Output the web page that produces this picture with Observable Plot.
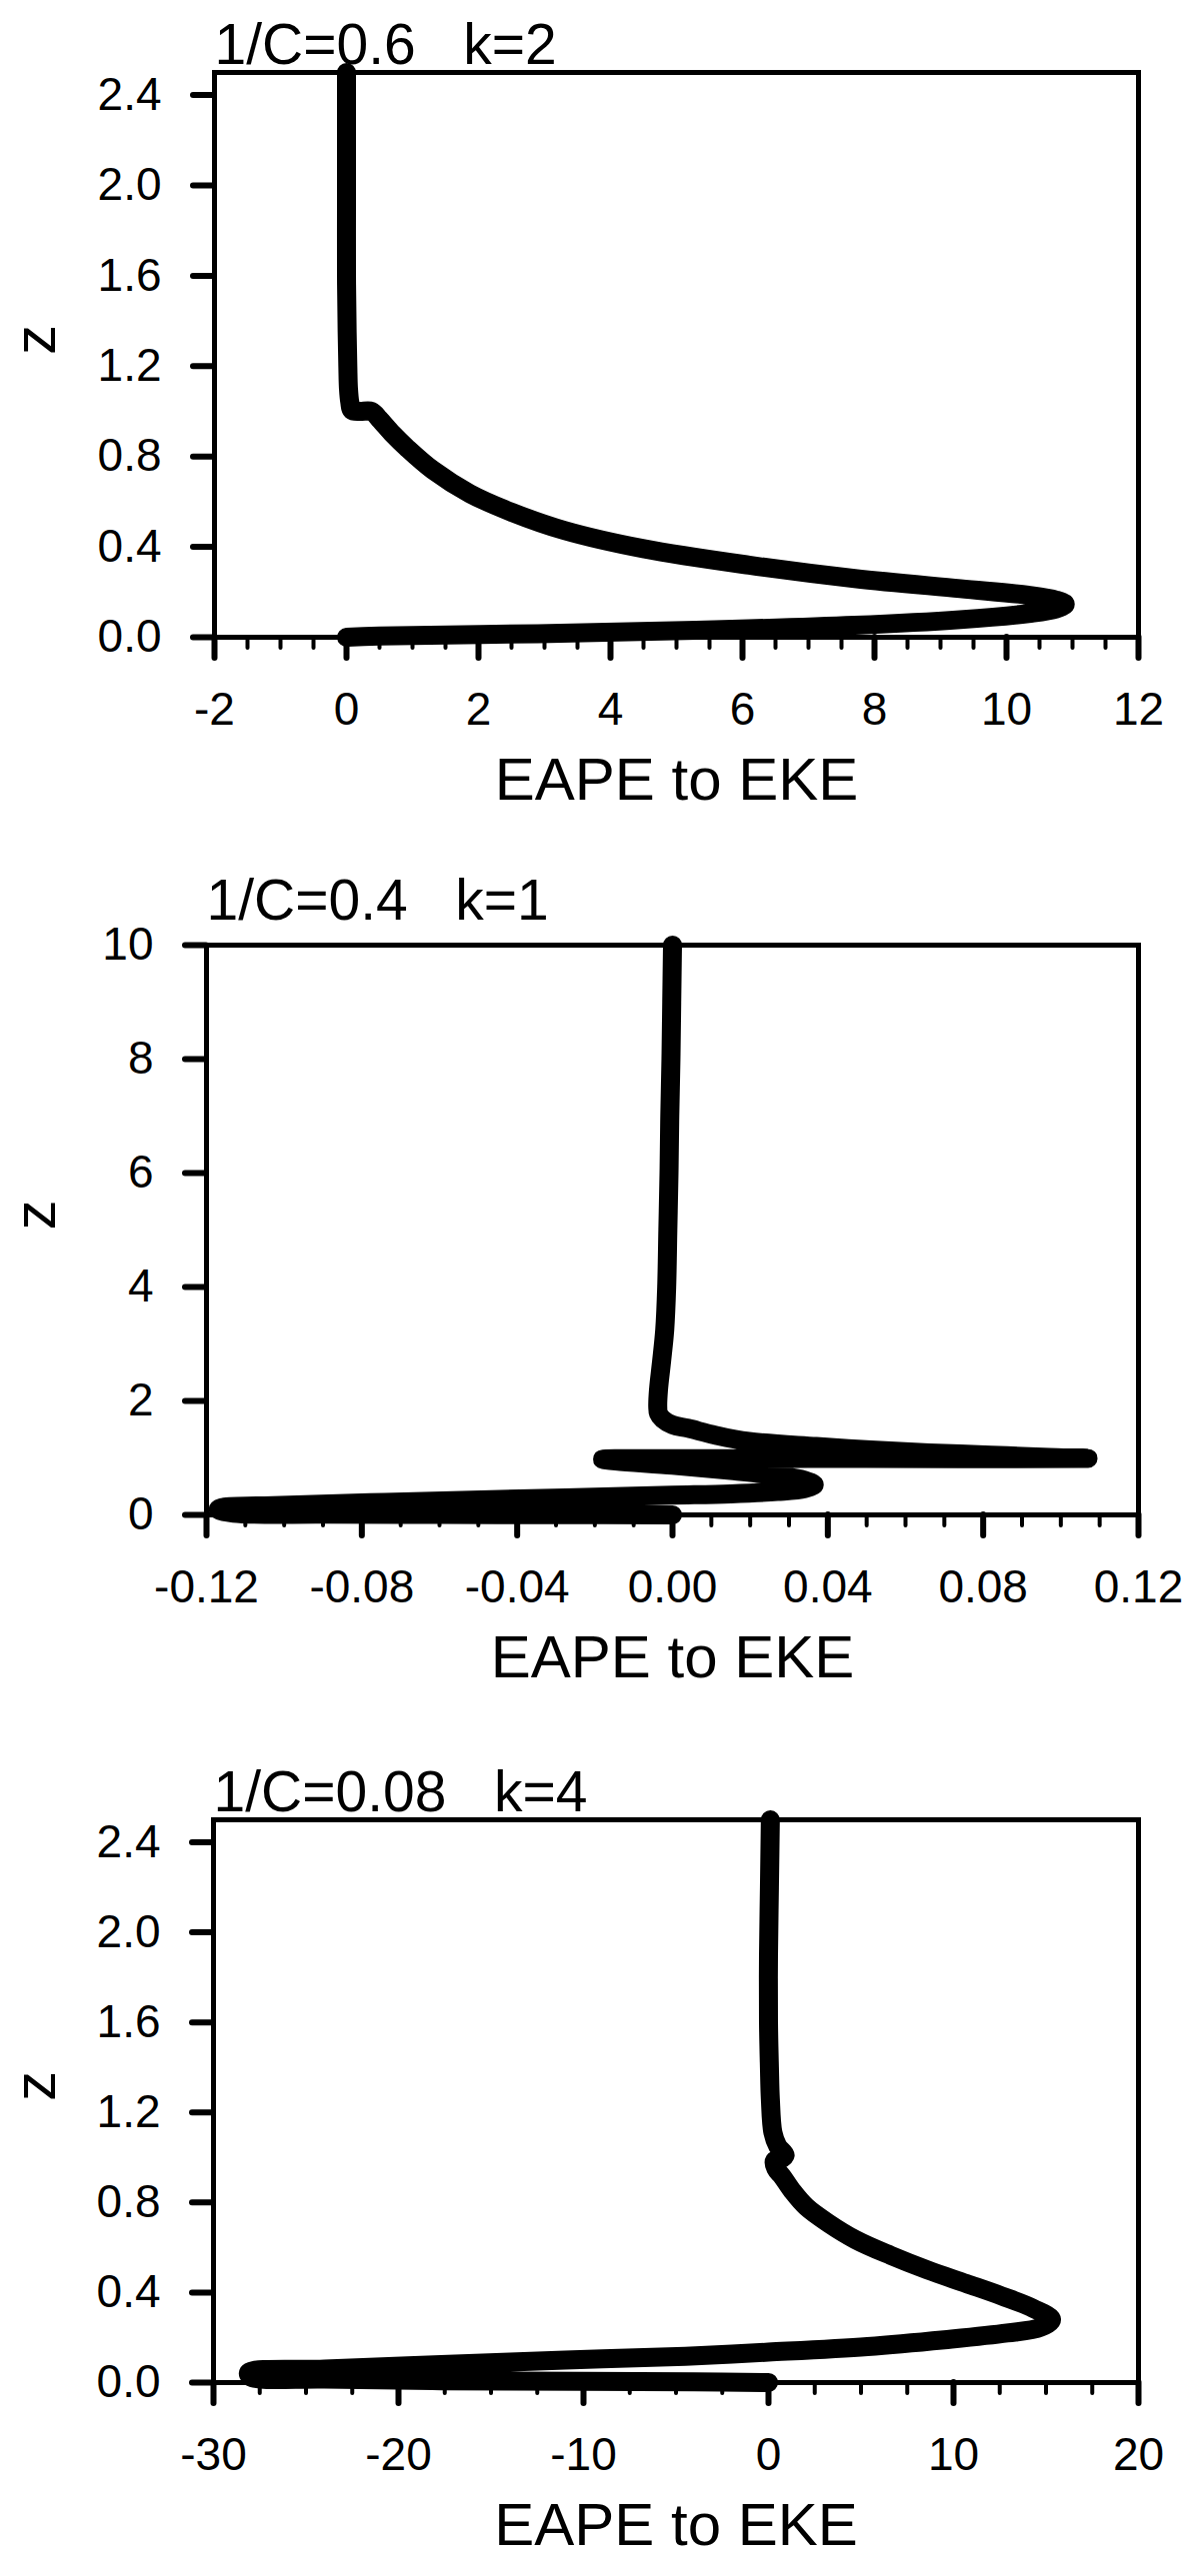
<!DOCTYPE html>
<html>
<head>
<meta charset="utf-8">
<script src="https://cdn.jsdelivr.net/npm/d3@7"></script>
<script src="https://cdn.jsdelivr.net/npm/@observablehq/plot@0.6"></script>
<style>
  html, body { margin: 0; padding: 0; background: #fff; }
  #chart svg { display: block; }
</style>
</head>
<body>
<div id="chart"></div>
<script>
// panel titles
const titles = ["1/C=0.6\u00a0\u00a0\u00a0k=2", "1/C=0.4\u00a0\u00a0\u00a0k=1", "1/C=0.08\u00a0\u00a0\u00a0k=4"];
const xLabel = "EAPE to EKE";
const yLabel = "z";

// panel 1: 1/C=0.6, k=2  (E = EAPE to EKE, z = height), traced top -> bottom
const p1E = [0.0, 0.0, 0.0, 0.0, 0.01, 0.02, 0.03, 0.05, 0.08, 0.2, 0.38, 0.5, 0.7, 0.91, 1.31, 1.87, 2.5, 3.3, 4.5, 6.1, 7.7, 9.3, 10.33, 10.75, 10.89, 10.75, 10.33, 9.3, 7.7, 5.3, 2.9, 0.5, 0.0];
const p1Z = [2.5, 2.2, 1.9, 1.6, 1.35, 1.2, 1.1, 1.04, 1.005, 1.0, 1.0, 0.965, 0.9, 0.84, 0.74, 0.636, 0.554, 0.473, 0.392, 0.319, 0.26, 0.215, 0.186, 0.165, 0.146, 0.125, 0.105, 0.078, 0.053, 0.031, 0.016, 0.006, 0.0];

// panel 2: 1/C=0.4, k=1
const p2E = [0.0, -0.0002, -0.0004, -0.0007, -0.0009, -0.0012, -0.0015, -0.002, -0.0028, -0.0036, -0.0038, -0.0036, -0.0025, 0.0, 0.004, 0.011, 0.0196, 0.037, 0.051, 0.066, 0.082, 0.097, 0.107, 0.05, 0.0, -0.018, 0.0, 0.015, 0.026, 0.034, 0.0365, 0.034, 0.027, 0.015, 0.0, -0.0275, -0.074, -0.105, -0.116, -0.117, -0.113, -0.09, -0.06, -0.03, 0.0];
const p2Z = [10.0, 9.0, 8.0, 7.0, 6.0, 5.0, 4.0, 3.25, 2.7, 2.2, 1.9, 1.78, 1.68, 1.58, 1.52, 1.4, 1.29, 1.2, 1.14, 1.09, 1.05, 1.01, 0.99, 0.99, 0.985, 0.975, 0.87, 0.78, 0.7, 0.61, 0.53, 0.46, 0.41, 0.37, 0.345, 0.3, 0.22, 0.16, 0.13, 0.09, 0.03, 0.012, 0.008, 0.005, 0.0];

// panel 3: 1/C=0.08, k=4
const p3E = [0.1, 0.05, 0.0, 0.0, 0.05, 0.1, 0.24, 0.5, 0.9, 0.6, 0.32, 0.4, 0.73, 1.3, 2.05, 3.2, 4.7, 6.6, 8.6, 10.7, 12.6, 14.3, 15.3, 14.7, 12.9, 9.5, 5.35, 0.0, -4.5, -11, -17.7, -24, -28.1, -28, -24, -17.7, -10, -4, 0.0];
const p3Z = [2.5, 2.2, 1.9, 1.6, 1.4, 1.26, 1.11, 1.05, 1.01, 0.99, 0.985, 0.95, 0.917, 0.85, 0.78, 0.71, 0.635, 0.565, 0.5, 0.44, 0.385, 0.33, 0.28, 0.245, 0.22, 0.19, 0.16, 0.135, 0.117, 0.1, 0.08, 0.06, 0.045, 0.025, 0.015, 0.008, 0.005, 0.003, 0.0];

// axes
const p1XTicks = [-2, 0, 2, 4, 6, 8, 10, 12];
const p1YTicks = [0, 0.4, 0.8, 1.2, 1.6, 2.0, 2.4];
const p2XTicks = [-0.12, -0.08, -0.04, 0, 0.04, 0.08, 0.12];
const p2YTicks = [0, 2, 4, 6, 8, 10];
const p3XTicks = [-30, -20, -10, 0, 10, 20];
const p3YTicks = [0, 0.4, 0.8, 1.2, 1.6, 2.0, 2.4];

const font = "'Liberation Sans', Arial, Helvetica, sans-serif";

function panel({E, Z, title, xDomain, yDomain, xTicks, xMinor, yTicks, xFmt, yFmt, height, margin, titleDy}) {
  const data = E.map((e, i) => ({E: e, z: Z[i]}));
  return Plot.plot({
    width: 1200,
    height,
    marginTop: margin[0],
    marginRight: margin[1],
    marginBottom: margin[2],
    marginLeft: margin[3],
    style: {fontFamily: font, color: "black", background: "white", overflow: "visible"},
    x: {domain: xDomain},
    y: {domain: yDomain},
    marks: [
      // minor ticks on x only, then labelled major ticks
      Plot.axisX(xMinor, {tickSize: 11, stroke: "black", strokeWidth: 4, strokeLinecap: "round", tickFormat: () => "", label: null}),
      Plot.axisX(xTicks, {tickSize: 21, tickPadding: 34, stroke: "black", fill: "black", strokeWidth: 6, strokeLinecap: "round", fontSize: 46, tickFormat: xFmt, label: null}),
      Plot.axisY(yTicks, {tickSize: 21, tickPadding: 32, stroke: "black", fill: "black", strokeWidth: 6, strokeLinecap: "round", fontSize: 46, tickFormat: yFmt, label: null}),
      Plot.frame({stroke: "black", strokeWidth: 5}),
      Plot.line(data, {
        x: "E", y: "z",
        stroke: "black", strokeWidth: 19,
        strokeLinecap: "round", strokeLinejoin: "round",
        curve: "catmull-rom"
      }),
      Plot.text([title], {text: (d) => d, frameAnchor: "top-left", textAnchor: "start", lineAnchor: "bottom", dy: -titleDy, fontSize: 57}),
      Plot.text([xLabel], {text: (d) => d, frameAnchor: "bottom", lineAnchor: "bottom", dy: 162, fontSize: 60}),
      Plot.text([yLabel], {text: (d) => d, frameAnchor: "left", lineAnchor: "bottom", rotate: -90, dx: 54 - margin[3], fontSize: 60})
    ]
  });
}

const chart = document.getElementById("chart");

chart.appendChild(panel({
  E: p1E, Z: p1Z, title: titles[0],
  xDomain: [-2, 12], yDomain: [0, 2.5],
  xTicks: p1XTicks, xMinor: d3.range(-2, 12.001, 0.5), yTicks: p1YTicks,
  xFmt: (d) => String(d), yFmt: (d) => d.toFixed(1),
  height: 860, margin: [72, 62, 223, 214], titleDy: 9
}));

chart.appendChild(panel({
  E: p2E, Z: p2Z, title: titles[1],
  xDomain: [-0.12, 0.12], yDomain: [0, 10],
  xTicks: p2XTicks, xMinor: d3.range(-12, 12.001, 1).map((d) => d / 100), yTicks: p2YTicks,
  xFmt: (d) => (Math.abs(d) < 1e-9 ? 0 : d).toFixed(2), yFmt: (d) => String(d),
  height: 860, margin: [85, 62, 205, 206], titleDy: 26
}));

chart.appendChild(panel({
  E: p3E, Z: p3Z, title: titles[2],
  xDomain: [-30, 20], yDomain: [0, 2.5],
  xTicks: p3XTicks, xMinor: d3.range(-30, 20.001, 2.5), yTicks: p3YTicks,
  xFmt: (d) => String(d), yFmt: (d) => d.toFixed(1),
  height: 857, margin: [100, 62, 194, 213], titleDy: 9
}));
</script>
</body>
</html>
